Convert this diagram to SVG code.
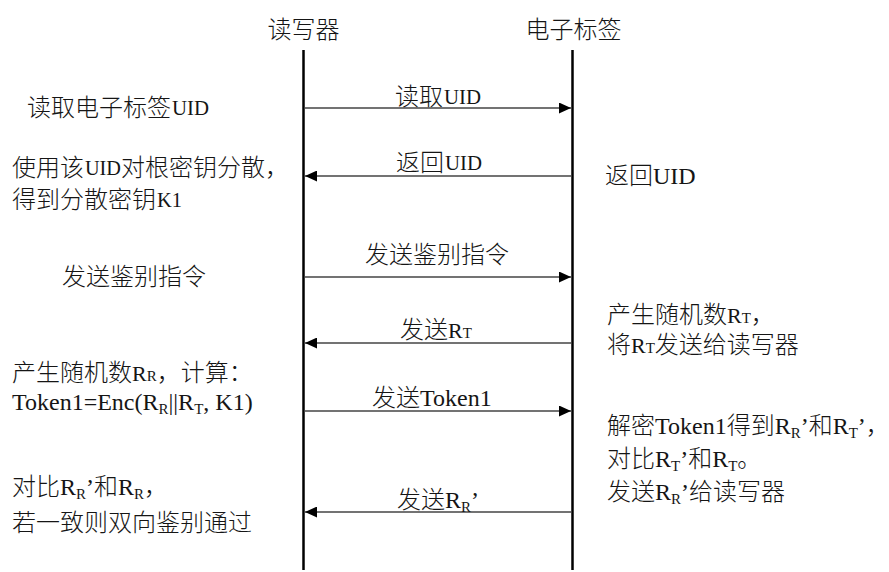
<svg xmlns="http://www.w3.org/2000/svg" width="889" height="572" viewBox="0 0 889 572">
<defs>
<style>
text { font-family: "Liberation Serif", "Noto Sans CJK SC", serif; font-size: 24px; font-weight: 300; fill: #151515; }
.m { font-family: "Liberation Serif", serif; font-size: 22px; font-weight: 400; }
.s { font-family: "Liberation Serif", serif; font-size: 15px; font-weight: 400; }
.r { font-family: "Liberation Serif", serif; font-size: 22px; font-weight: 400; }
.life { stroke: #000; stroke-width: 2.5; fill: none; }
.msg { stroke: #444; stroke-width: 1.5; fill: none; }
</style>
<marker id="ah" viewBox="0 0 12 11" refX="12" refY="5.5" markerWidth="12" markerHeight="11" markerUnits="userSpaceOnUse" orient="auto">
<path d="M0,0 L12,5.5 L0,11 Z" fill="#000"/>
</marker>
</defs>
<rect width="889" height="572" fill="#fff"/>

<g id="reader">
<text x="303.5" y="38" text-anchor="middle">读写器</text>
<line class="life" x1="303.5" y1="50" x2="303.5" y2="570"/>
</g>
<g id="tag">
<text x="573.5" y="38" text-anchor="middle">电子标签</text>
<line class="life" x1="572.5" y1="50" x2="572.5" y2="570"/>
</g>

<g id="connectors">
<line class="msg" x1="305" y1="108" x2="571" y2="108" marker-end="url(#ah)"/>
<line class="msg" x1="571" y1="176" x2="305" y2="176" marker-end="url(#ah)"/>
<line class="msg" x1="305" y1="277" x2="571" y2="277" marker-end="url(#ah)"/>
<line class="msg" x1="571" y1="343" x2="305" y2="343" marker-end="url(#ah)"/>
<line class="msg" x1="305" y1="411" x2="571" y2="411" marker-end="url(#ah)"/>
<line class="msg" x1="571" y1="512" x2="305" y2="512" marker-end="url(#ah)"/>
</g>

<g id="msg-labels">
<text x="395" y="105">读取</text><text class="m" x="444" y="104" textLength="37" lengthAdjust="spacingAndGlyphs">UID</text>
<text x="396" y="171">返回</text><text class="m" x="445" y="170" textLength="37" lengthAdjust="spacingAndGlyphs">UID</text>
<text x="365" y="263">发送鉴别指令</text>
<text x="400" y="338">发送<tspan class="r">R</tspan><tspan class="s">T</tspan></text>
<text x="372" y="406">发送Token1</text>
<text x="397" y="508">发送R<tspan class="s" dy="4">R</tspan><tspan dy="-4">’</tspan></text>
</g>

<g id="reader-notes">
<text x="27" y="116">读取电子标签</text><text class="m" x="172" y="115" textLength="37" lengthAdjust="spacingAndGlyphs">UID</text>
<text x="12" y="176">使用该</text><text class="m" x="85" y="175" textLength="36" lengthAdjust="spacingAndGlyphs">UID</text><text x="121" y="176">对根密钥分散，</text>
<text x="12" y="208">得到分散密钥</text><text class="m" x="157" y="207" textLength="25" lengthAdjust="spacingAndGlyphs">K1</text>
<text x="62" y="285">发送鉴别指令</text>
<text x="12" y="381">产生随机数<tspan class="r">R</tspan><tspan class="s">R</tspan>，计算：</text>
<text x="12" y="410">Token1=Enc(R<tspan class="s" dy="4">R</tspan><tspan dy="-4">||R</tspan><tspan class="s" dy="4">T</tspan><tspan dy="-4">, K1)</tspan></text>
<text x="12" y="495">对比R<tspan class="s" dy="4">R</tspan><tspan dy="-4">’和R</tspan><tspan class="s" dy="4">R</tspan><tspan dy="-4">，</tspan></text>
<text x="12" y="531">若一致则双向鉴别通过</text>
</g>

<g id="tag-notes">
<text x="605" y="184">返回UID</text>
<text x="607" y="323">产生随机数<tspan class="r">R</tspan><tspan class="s">T</tspan>，</text>
<text x="607" y="353">将<tspan class="r">R</tspan><tspan class="s">T</tspan>发送给读写器</text>
<text x="607" y="434">解密Token1得到R<tspan class="s" dy="4">R</tspan><tspan dy="-4">’和R</tspan><tspan class="s" dy="4">T</tspan><tspan dy="-4">’，</tspan></text>
<text x="607" y="467">对比R<tspan class="s" dy="4">T</tspan><tspan dy="-4">’和R</tspan><tspan class="s" dy="4">T</tspan><tspan dy="-4">。</tspan></text>
<text x="607" y="500">发送R<tspan class="s" dy="4">R</tspan><tspan dy="-4">’给读写器</tspan></text>
</g>
</svg>
